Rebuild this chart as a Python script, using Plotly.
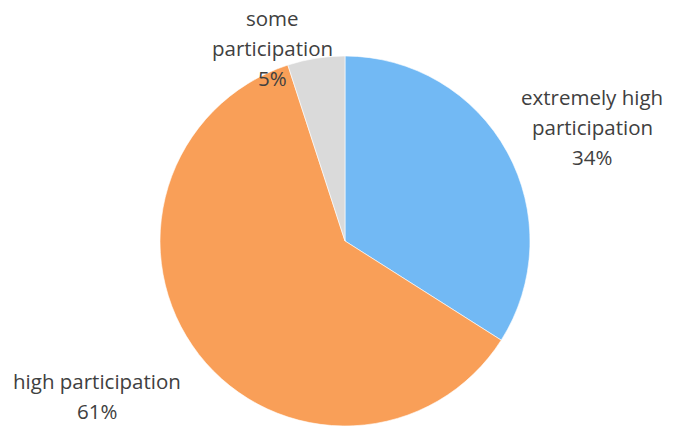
import plotly.graph_objects as go

categories = ["extremely high participation", "high participation", "some participation"]
values = [34, 61, 5]
colors = ["#72b9f4", "#f99f58", "#dadada"]

label_lines = {
    "extremely high participation": ["extremely high", "participation", "34%"],
    "high participation": ["high participation", "61%"],
    "some participation": ["some", "participation", "5%"],
}
label_pos = {
    "extremely high participation": (592, 97),
    "high participation": (97, 381),
    "some participation": (272, 18),
}

W, H = 673, 435
cx, cy, r = 345, 241, 185

fig = go.Figure(go.Pie(
    labels=categories,
    values=values,
    sort=False,
    direction="clockwise",
    rotation=0,
    textinfo="none",
    hoverinfo="label+percent",
    marker=dict(colors=colors, line=dict(color="#ffffff", width=0.6)),
    domain=dict(x=[(cx - r) / W, (cx + r) / W], y=[(H - cy - r) / H, (H - cy + r) / H]),
    showlegend=False,
))

line_gap = 30
for cat in categories:
    x0, y0 = label_pos[cat]
    for i, txt in enumerate(label_lines[cat]):
        fig.add_annotation(
            x=x0 / W, y=1 - (y0 + i * line_gap) / H,
            xref="paper", yref="paper",
            text=txt, showarrow=False,
            xanchor="center", yanchor="middle",
            font=dict(family="Open Sans", size=20.5, color="#404040"),
        )

fig.update_layout(
    width=W, height=H,
    margin=dict(l=0, r=0, t=0, b=0),
    paper_bgcolor="white",
    plot_bgcolor="white",
)

fig.write_html(
    "out.html",
    config={"displayModeBar": False},
    post_script="document.body.style.margin='0';",
)
